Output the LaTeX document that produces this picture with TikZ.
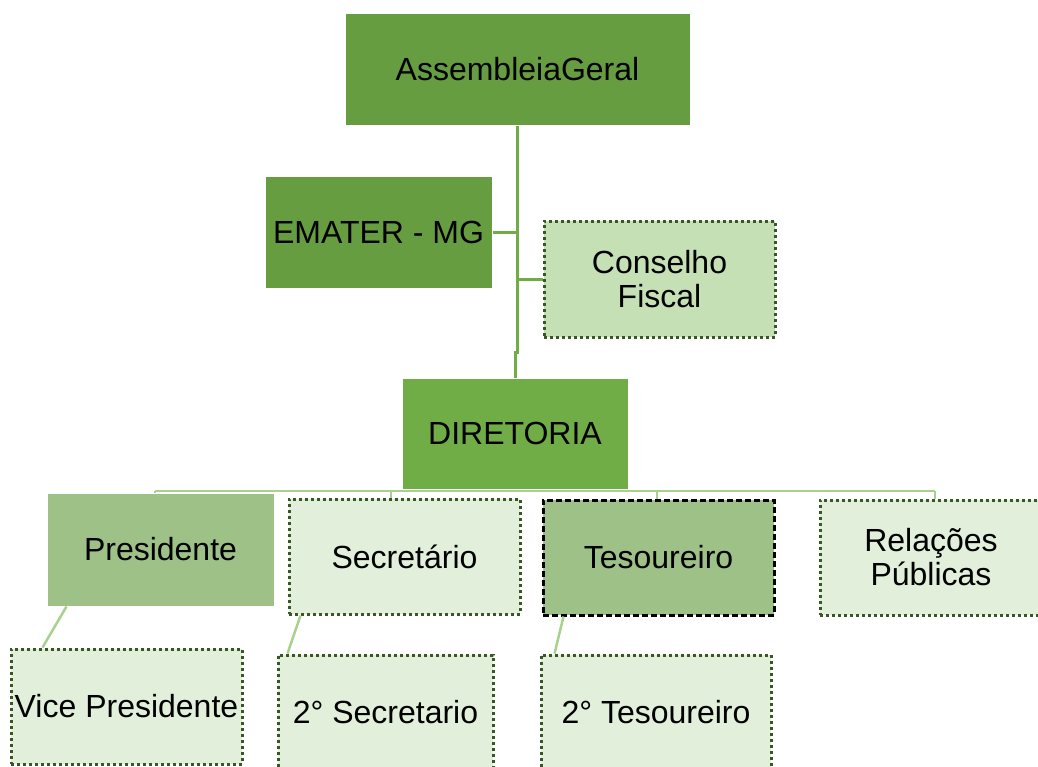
\documentclass[tikz,border=0pt]{standalone}
\usepackage{fontspec}
\setmainfont{Liberation Sans}
\definecolor{gA}{HTML}{669D41}
\definecolor{gB}{HTML}{70AD47}
\definecolor{gC}{HTML}{C5E0B4}
\definecolor{gD}{HTML}{E2EFDA}
\definecolor{gE}{HTML}{9DC186}
\definecolor{gLine}{HTML}{A9D18E}
\definecolor{gDark}{HTML}{385723}
\begin{document}
\begin{tikzpicture}[x=1pt,y=-1pt,
  box/.style={rectangle,inner sep=1pt,align=center,font=\fontsize{32}{34}\selectfont,text=black},
  solidbox/.style={box,draw=white,line width=1pt},
  dotbox/.style={box,draw=gDark,line width=3pt,dash pattern=on 3pt off 3pt,fill=gD},
  mainline/.style={draw=gB,line width=3pt},
  subline/.style={draw=gLine,line width=2.5pt}]
\useasboundingbox (0,0) rectangle (1038,766);
\node[solidbox,fill=gA,minimum width=345pt,minimum height=112pt] (ag) at (517.5,69) {AssembleiaGeral};
\node[solidbox,fill=gA,minimum width=227pt,minimum height=112pt] (em) at (378.5,232) {EMATER - MG};
\node[dotbox,fill=gC,minimum width=231pt,minimum height=116pt] (cf) at (659.5,279) {Conselho\\Fiscal};
\node[solidbox,fill=gB,minimum width=226pt,minimum height=111pt] (dir) at (515,433.5) {DIRETORIA};
\node[solidbox,fill=gE,minimum width=227pt,minimum height=113pt] (pres) at (160.5,549.5) {Presidente};
\node[dotbox,minimum width=231pt,minimum height=115pt] (sec) at (404.5,556.5) {Secretário};
\node[box,fill=gE,draw=black,line width=3pt,dash pattern=on 6pt off 3pt,minimum width=231pt,minimum height=115pt] (tes) at (658.5,557.5) {Tesoureiro};
\node[dotbox,minimum width=222pt,minimum height=115pt] (rp) at (931,557.5) {Relações\\Públicas};
\node[dotbox,minimum width=231pt,minimum height=115pt] (vp) at (126.5,706.5) {Vice Presidente};
\node[dotbox,minimum width=215pt,minimum height=115pt] (ss) at (385.5,712.5) {2° Secretario};
\node[dotbox,minimum width=230pt,minimum height=115pt] (st) at (656,712.5) {2° Tesoureiro};
% main connector
\coordinate (jog) at (517,352);
\draw[mainline] (ag.south -| jog) -- (jog) -- (515,352) -- (dir.north);
\draw[mainline] (em.east) -- (em.east -| jog);
\draw[mainline] (cf.west -| jog) -- (cf.west);
% bus
\coordinate (busL) at (155,491);
\coordinate (busR) at (935,491);
\draw[subline] (busL) -- (busR);
\draw[subline] (391,491) -- (sec.north -| 391,0);
\draw[subline] (657,491) -- (tes.north -| 657,0);
\draw[subline] (busR) -- (rp.north -| busR);
\draw[subline] (busL) -- (pres.north -| busL);
% diagonals
\draw[subline] ([xshift=20pt]pres.south west) -- ([xshift=33pt]vp.north west);
\draw[subline] ([xshift=13pt]sec.south west) -- ([xshift=11pt]ss.north west);
\draw[subline] ([xshift=22pt]tes.south west) -- ([xshift=15pt]st.north west);
\end{tikzpicture}
\end{document}
